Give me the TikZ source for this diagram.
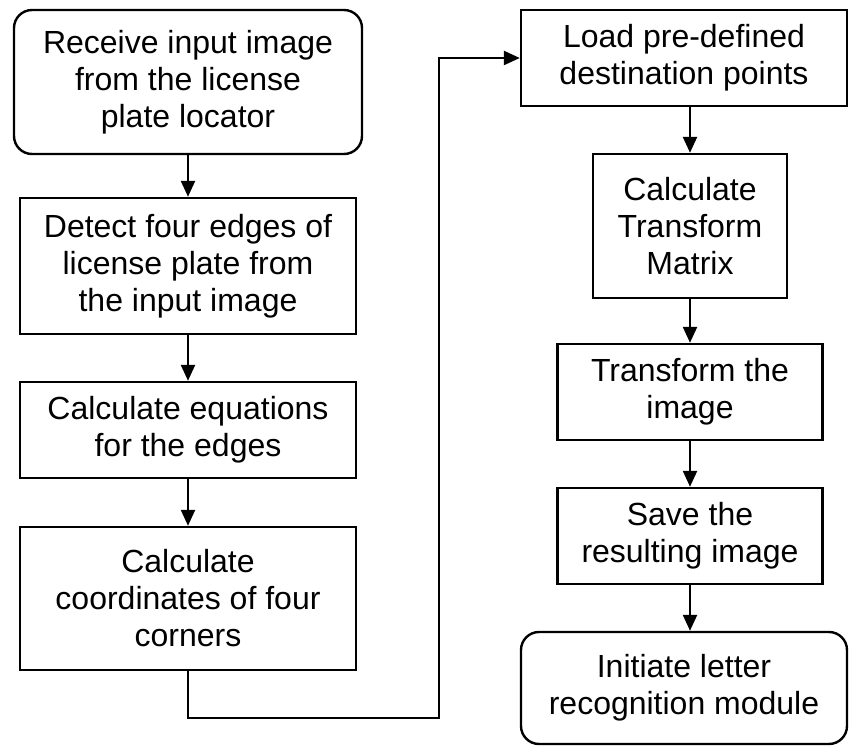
\documentclass[tikz,border=0pt]{standalone}
\usepackage{fontspec}
\setmainfont{Liberation Sans}
\usetikzlibrary{arrows.meta}
\begin{document}
\begin{tikzpicture}[x=1pt,y=-1pt,
  box/.style={draw, line width=2.4pt, align=center, inner sep=0pt, font=\fontsize{32}{37}\selectfont},
  rbox/.style={box, rounded corners=18pt},
  arr/.style={line width=2.4pt, -{Triangle[length=16pt,width=14pt]}}]
\useasboundingbox (0,0) rectangle (849,746);
\node[rbox, minimum width=348pt, minimum height=144pt] (n1) at (188,82) {Receive input image\\from the license\\plate locator};
\node[box, minimum width=336pt, minimum height=136pt] (n2) at (188,266) {Detect four edges of\\license plate from\\the input image};
\node[box, minimum width=336pt, minimum height=96pt] (n3) at (188,430) {Calculate equations\\for the edges};
\node[box, minimum width=336pt, minimum height=143pt] (n4) at (188,598.5) {Calculate\\coordinates of four\\corners};
\node[box, minimum width=326pt, minimum height=96pt] (n5) at (684,58) {Load pre-defined\\destination points};
\node[box, minimum width=194pt, minimum height=144pt] (n6) at (690,226) {Calculate\\Transform\\Matrix};
\node[box, minimum width=265pt, minimum height=96pt] (n7) at (690,392) {Transform the\\image};
\node[box, minimum width=265pt, minimum height=96pt] (n8) at (690,536) {Save the\\resulting image};
\node[rbox, minimum width=326pt, minimum height=112pt] (n9) at (684,688) {Initiate letter\\recognition module};
\coordinate (c1) at (439,718);
\draw[arr] (n1) -- (n2);
\draw[arr] (n2) -- (n3);
\draw[arr] (n3) -- (n4);
\draw[arr] (n4.south) |- (c1) |- (n5.west);
\draw[arr] (n6.north |- n5.south) -- (n6.north);
\draw[arr] (n6) -- (n7);
\draw[arr] (n7) -- (n8);
\draw[arr] (n8.south) -- (n8.south |- n9.north);
\end{tikzpicture}
\end{document}
